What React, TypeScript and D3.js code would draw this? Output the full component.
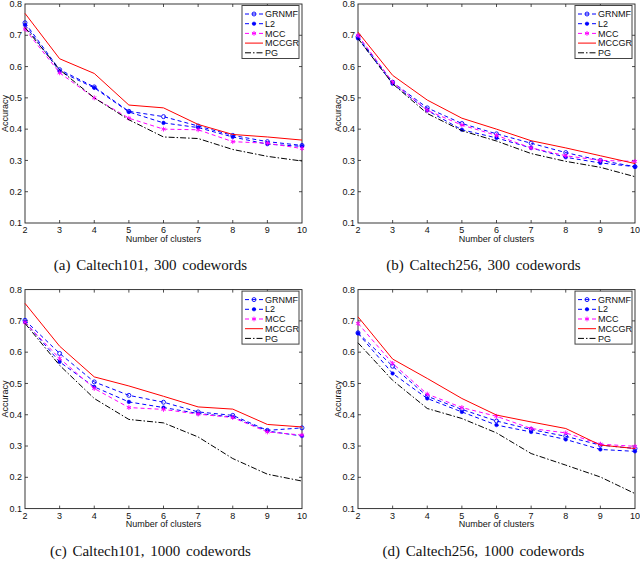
import React from 'react';
import * as d3 from 'd3';

const width = 640;
const height = 579;

const clusters = [2, 3, 4, 5, 6, 7, 8, 9, 10];
const yTicks = [0.1, 0.2, 0.3, 0.4, 0.5, 0.6, 0.7, 0.8];
const methods = ['GRNMF', 'L2', 'MCC', 'MCCGR', 'PG'];

// accuracy per method, in the order of `methods`
const caltech101_300 = [
  [0.74, 0.59, 0.535, 0.457, 0.44, 0.41, 0.38, 0.36, 0.348],
  [0.733, 0.585, 0.532, 0.455, 0.42, 0.405, 0.375, 0.352, 0.345],
  [0.72, 0.58, 0.5, 0.435, 0.4, 0.398, 0.36, 0.355, 0.338],
  [0.77, 0.625, 0.578, 0.477, 0.468, 0.415, 0.383, 0.375, 0.365],
  [0.725, 0.59, 0.5, 0.43, 0.375, 0.37, 0.335, 0.313, 0.298],
];
const caltech256_300 = [
  [0.695, 0.55, 0.468, 0.418, 0.385, 0.355, 0.325, 0.3, 0.28],
  [0.69, 0.545, 0.46, 0.398, 0.372, 0.34, 0.31, 0.292, 0.28],
  [0.7, 0.55, 0.46, 0.413, 0.38, 0.34, 0.315, 0.3, 0.297],
  [0.71, 0.572, 0.493, 0.435, 0.4, 0.363, 0.34, 0.315, 0.29],
  [0.69, 0.545, 0.45, 0.395, 0.362, 0.322, 0.297, 0.278, 0.248],
];
const caltech101_1000 = [
  [0.702, 0.596, 0.505, 0.462, 0.44, 0.409, 0.398, 0.35, 0.358],
  [0.697, 0.569, 0.489, 0.441, 0.423, 0.404, 0.393, 0.348, 0.332],
  [0.695, 0.58, 0.484, 0.423, 0.417, 0.402, 0.391, 0.345, 0.335],
  [0.756, 0.619, 0.521, 0.492, 0.459, 0.425, 0.418, 0.369, 0.361],
  [0.692, 0.558, 0.452, 0.385, 0.374, 0.329, 0.26, 0.21, 0.188],
];
const caltech256_1000 = [
  [0.662, 0.555, 0.459, 0.417, 0.38, 0.353, 0.331, 0.303, 0.292],
  [0.66, 0.532, 0.452, 0.409, 0.367, 0.345, 0.321, 0.289, 0.283],
  [0.692, 0.564, 0.466, 0.423, 0.395, 0.356, 0.342, 0.306, 0.299],
  [0.713, 0.578, 0.516, 0.452, 0.399, 0.377, 0.356, 0.303, 0.292],
  [0.63, 0.51, 0.42, 0.388, 0.342, 0.276, 0.239, 0.201, 0.148],
];

const styles: any = {
  GRNMF: {color: '#0000ff', dash: '4,3', marker: 'circle'},
  L2: {color: '#0000ff', dash: '4,3', marker: 'dot'},
  MCC: {color: '#ff00ff', dash: '4,3', marker: 'star'},
  MCCGR: {color: '#ff0000', dash: null, marker: null},
  PG: {color: '#000000', dash: '6,2,1.5,2', marker: null},
};

const plotW = 277;
const plotH = 219;
const axisFont = '"Liberation Sans", Arial, sans-serif';

const Marker = ({type, x, y, color}: any) => {
  if (type === 'circle') return <circle cx={x} cy={y} r={2} fill='none' stroke={color} strokeWidth={0.9} />;
  if (type === 'dot') return <circle cx={x} cy={y} r={1.8} fill={color} stroke={color} strokeWidth={0.5} />;
  if (type === 'star') {
    const p = d3.symbol().type(d3.symbolAsterisk).size(16)();
    return <path d={p} transform={`translate(${x},${y})`} fill='none' stroke={color} strokeWidth={0.9} />;
  }
  return null;
};

const Panel = ({left, top, data, caption}: any) => {
  const x = d3.scaleLinear().domain([2, 10]).range([left, left + plotW]);
  const y = d3.scaleLinear().domain([0.1, 0.8]).range([top + plotH, top]);
  const line = d3.line<number>().x((d, i) => x(clusters[i])).y(d => y(d));
  const bottom = top + plotH;
  const right = left + plotW;
  const legX = right - 60;
  const legY = top + 1.5;

  return (
    <g>
      {/* frame and inward ticks on all sides */}
      <rect x={left} y={top} width={plotW} height={plotH} fill='white' stroke='#222' strokeWidth={0.9} />
      {clusters.slice(1, -1).map(c => (
        <g key={'xt' + c} stroke='#222' strokeWidth={0.8}>
          <line x1={x(c)} x2={x(c)} y1={bottom} y2={bottom - 3} />
          <line x1={x(c)} x2={x(c)} y1={top} y2={top + 3} />
        </g>
      ))}
      {yTicks.slice(1, -1).map(t => (
        <g key={'yt' + t} stroke='#222' strokeWidth={0.8}>
          <line x1={left} x2={left + 3} y1={y(t)} y2={y(t)} />
          <line x1={right} x2={right - 3} y1={y(t)} y2={y(t)} />
        </g>
      ))}
      <g fontFamily={axisFont} fontSize={9} fill='#111'>
        {clusters.map(c => (
          <text key={'xl' + c} x={x(c)} y={bottom + 10} textAnchor='middle'>{c}</text>
        ))}
        {yTicks.map(t => (
          <text key={'yl' + t} x={left - 3} y={y(t)} dy='0.35em' textAnchor='end'>{t.toFixed(1)}</text>
        ))}
        <text x={(left + right) / 2} y={bottom + 18.5} textAnchor='middle'>Number of clusters</text>
        <text transform={`translate(${left - 17},${(top + bottom) / 2}) rotate(-90)`} textAnchor='middle'>Accuracy</text>
      </g>

      {/* series */}
      {methods.map((m, i) => {
        const s = styles[m];
        return (
          <g key={m}>
            <path d={line(data[i]) || ''} fill='none' stroke={s.color} strokeWidth={1} strokeDasharray={s.dash || undefined} />
            {s.marker && data[i].map((v: number, j: number) => (
              <Marker key={j} type={s.marker} x={x(clusters[j])} y={y(v)} color={s.color} />
            ))}
          </g>
        );
      })}

      {/* legend */}
      <rect x={legX} y={legY} width={57} height={53} fill='white' stroke='#444' strokeWidth={1} />
      {methods.map((m, i) => {
        const s = styles[m];
        const ry = legY + 8.5 + i * 9.7;
        return (
          <g key={'lg' + m}>
            <line x1={legX + 3} x2={legX + 21} y1={ry} y2={ry} stroke={s.color} strokeWidth={1} strokeDasharray={s.dash || undefined} />
            {s.marker && <Marker type={s.marker} x={legX + 12} y={ry} color={s.color} />}
            <text x={legX + 23} y={ry} dy='0.35em' fontFamily={axisFont} fontSize={9} fill='#111'>{m}</text>
          </g>
        );
      })}

      <text x={(left + right) / 2 - 13} y={bottom + 47} textAnchor='middle' wordSpacing={2}
        fontFamily='"Liberation Serif", "Times New Roman", serif' fontSize={15} fill='#111'>{caption}</text>
    </g>
  );
};

export default function App() {
  return (
    <svg width={width} height={height} style={{position: 'absolute', left: 0, top: 0, background: 'white'}}>
      <Panel left={25} top={4} data={caltech101_300} caption='(a) Caltech101, 300 codewords' />
      <Panel left={358} top={4} data={caltech256_300} caption='(b) Caltech256, 300 codewords' />
      <Panel left={25} top={289.6} data={caltech101_1000} caption='(c) Caltech101, 1000 codewords' />
      <Panel left={358} top={289.6} data={caltech256_1000} caption='(d) Caltech256, 1000 codewords' />
    </svg>
  );
}
